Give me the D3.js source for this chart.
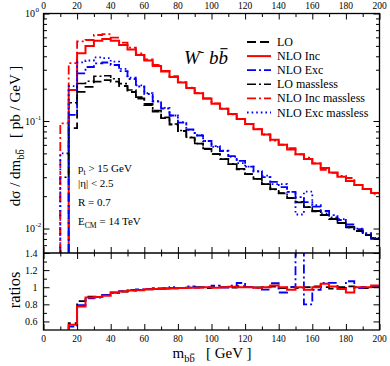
<!DOCTYPE html>
<html>
<head>
<meta charset="utf-8">
<script src="https://cdn.jsdelivr.net/npm/d3@7"></script>
<style>
body { margin: 0; background: #fff; }
text { font-family: "Liberation Serif", "DejaVu Serif", serif; fill: #000; white-space: pre; }
</style>
</head>
<body>
<script>
// bin edges of m_bb (GeV), 5 GeV bins
const edges = [10,15,20,25,30,35,40,45,50,55,60,65,70,75,80,85,90,95,100,105,110,115,120,125,130,135,140,145,150,155,160,165,170,175,180,185,190,195,200]

// dsigma/dm per bin (pb/GeV), null = nothing in that bin
const lo = [null,0.086,0.187,0.208,0.232,0.240,0.232,0.2116,0.1862,0.1619,0.1409,0.1226,0.1066,0.0928,0.0807,0.0702,0.0617,0.0549,0.0493,0.0443,0.0398,0.0358,0.0321,0.0289,0.0259,0.0233,0.0212,0.0192,0.0175,0.0158,0.01455,0.01336,0.01226,0.01125,0.01033,0.00948,0.0087,0.00799]
const nloInc = [null,0.194,0.426,0.499,0.558,0.579,0.558,0.509,0.463,0.411,0.365,0.325,0.289,0.257,0.228,0.203,0.181,0.162,0.145,0.130,0.116,0.1045,0.0938,0.0838,0.0749,0.0671,0.0603,0.0543,0.0490,0.0443,0.0403,0.0366,0.0332,0.0303,0.0277,0.0254,0.0233,0.0214]
const nloExc = [null,0.114,0.277,0.318,0.343,0.350,0.332,0.2917,0.2458,0.2094,0.1783,0.1518,0.1307,0.1125,0.0968,0.0834,0.0733,0.0652,0.0585,0.0526,0.0472,0.0425,0.0377,0.0339,0.0301,0.0271,0.0243,0.0219,0.0196,0.0176,0.0160,0.01455,0.01335,0.0120,0.0109,0.00989,0.00899,0.00816]
const loMassless = [0.03,0.148,0.223,0.234,0.261,0.264,0.247,0.2227,0.194,0.1669,0.1445,0.1251,0.1082,0.0937,0.0815,0.0706,0.0617,0.0555,0.0493,0.0443,0.0400,0.0354,0.0321,0.0290,0.0259,0.0231,0.0214,0.0192,0.0177,0.0158,0.0144,0.01336,0.01245,0.01125,0.01023,0.00948,0.00879,0.00799]
const nloIncMassless = [0.095,0.346,0.550,0.567,0.631,0.643,0.597,0.536,0.482,0.426,0.374,0.332,0.293,0.261,0.230,0.204,0.182,0.162,0.1457,0.130,0.1154,0.1045,0.0938,0.0842,0.0749,0.0658,0.0603,0.0560,0.0490,0.0457,0.0403,0.0352,0.0329,0.0309,0.0295,0.0254,0.0233,0.0210]
const nloExcMassless = [0.05,0.211,0.351,0.3655,0.390,0.385,0.357,0.3054,0.2534,0.2148,0.1819,0.1533,0.1327,0.1125,0.0978,0.0826,0.0737,0.0652,0.0574,0.0529,0.0463,0.0405,0.0377,0.0342,0.0310,0.0259,0.0259,0.0219,0.0135,0.0220,0.0165,0.01386,0.01271,0.01224,0.01019,0.00999,0.00899,0.00816]

const xTicks = [0,20,40,60,80,100,120,140,160,180,200]
const xMinor = [10,30,50,70,90,110,130,150,170,190]
const yMajor = [1,0.1,0.01]
const yMinor = [0.007,0.008,0.009,0.02,0.03,0.04,0.05,0.06,0.07,0.08,0.09,0.2,0.3,0.4,0.5,0.6,0.7,0.8,0.9]
const rTicks = [0.6,0.8,1,1.2,1.4]
const rMinor = [0.7,0.9,1.1,1.3]

let w = 390, h = 366
let L = 43.5, R = 379.5, T = 13.5, M = 253, B = 330

let svg = d3.select('body').append('svg').attr('width', w).attr('height', h)
svg.append('rect').attr('width', w).attr('height', h).attr('fill', '#fff')

let x = d3.scaleLinear().domain([0, 200]).range([L, R])
let y = d3.scaleLog().domain([0.00592, 1]).range([M, T])
let yr = d3.scaleLinear().domain([0.5, 1.4]).range([B, M])

let defs = svg.append('defs')
defs.append('clipPath').attr('id', 'clipTop').append('rect').attr('x', L).attr('y', T).attr('width', R - L).attr('height', M - T)
defs.append('clipPath').attr('id', 'clipRat').append('rect').attr('x', L).attr('y', M).attr('width', R - L).attr('height', B - M)

const styles = {
  lo: {color: '#000', dash: '9,4', width: 1.8},
  inc: {color: '#ff0000', dash: null, width: 2},
  exc: {color: '#0000ff', dash: '9,3,2,3', width: 1.8},
  loM: {color: '#000', dash: '9,3,2,3', width: 1.6},
  incM: {color: '#ff0000', dash: '9,3,2,3', width: 1.8},
  excM: {color: '#0000ff', dash: '1.6,3', width: 1.8}
}

function stepPts(vals, floor) {
  let pts = []
  let started = false
  vals.forEach((v, i) => {
    if (v == null) return
    if (!started) { pts.push([edges[i], floor]); started = true }
    pts.push([edges[i], v])
    pts.push([edges[i + 1], v])
  })
  return pts
}

function drawHist(g, vals, ys, floor, st) {
  let line = d3.line().x(d => x(d[0])).y(d => ys(d[1]))
  g.append('path')
    .attr('d', line(stepPts(vals, floor)))
    .attr('fill', 'none')
    .attr('stroke', st.color)
    .attr('stroke-width', st.width)
    .attr('stroke-dasharray', st.dash)
}

// top panel histograms
let gTop = svg.append('g').attr('clip-path', 'url(#clipTop)')
drawHist(gTop, lo, y, 0.00592, styles.lo)
drawHist(gTop, nloInc, y, 0.00592, styles.inc)
drawHist(gTop, nloExc, y, 0.00592, styles.exc)
drawHist(gTop, loMassless, y, 0.00592, styles.loM)
drawHist(gTop, nloIncMassless, y, 0.00592, styles.incM)
drawHist(gTop, nloExcMassless, y, 0.00592, styles.excM)

// ratio panel: massive / massless
let ratio = (a, b) => a.map((v, i) => v == null ? null : v / b[i])
let gRat = svg.append('g').attr('clip-path', 'url(#clipRat)')
drawHist(gRat, ratio(lo, loMassless), yr, 0.5, styles.lo)
drawHist(gRat, ratio(nloExc, nloExcMassless), yr, 0.5, styles.exc)
drawHist(gRat, ratio(nloInc, nloIncMassless), yr, 0.5, styles.inc)

// axes
function ax(axis, tx, ty, vals, size) {
  let g = svg.append('g').attr('transform', 'translate(' + tx + ',' + ty + ')')
    .call(axis.tickValues(vals).tickSize(size).tickSizeOuter(0).tickFormat(''))
  g.select('.domain').remove()
  g.selectAll('line').attr('stroke', '#000').attr('stroke-width', 1)
  return g
}
const big = -6, small = -3.5
ax(d3.axisLeft(y), L, 0, yMajor, big)
ax(d3.axisLeft(y), L, 0, yMinor, small)
ax(d3.axisRight(y), R, 0, yMajor, big)
ax(d3.axisRight(y), R, 0, yMinor, small)
ax(d3.axisTop(x), 0, T, xTicks, big)
ax(d3.axisTop(x), 0, T, xMinor, small)
ax(d3.axisBottom(x), 0, M, xTicks, big)
ax(d3.axisBottom(x), 0, M, xMinor, small)
ax(d3.axisTop(x), 0, M, xTicks, big)
ax(d3.axisTop(x), 0, M, xMinor, small)
ax(d3.axisBottom(x), 0, B, xTicks, big)
ax(d3.axisBottom(x), 0, B, xMinor, small)
ax(d3.axisLeft(yr), L, 0, rTicks, big)
ax(d3.axisLeft(yr), L, 0, rMinor, small)
ax(d3.axisRight(yr), R, 0, rTicks, big)
ax(d3.axisRight(yr), R, 0, rMinor, small)

svg.append('rect').attr('x', L).attr('y', T).attr('width', R - L).attr('height', B - T)
  .attr('fill', 'none').attr('stroke', '#000').attr('stroke-width', 1.3)
svg.append('line').attr('x1', L).attr('x2', R).attr('y1', M).attr('y2', M)
  .attr('stroke', '#000').attr('stroke-width', 1.3)

// tick labels
svg.selectAll('text.xt').data(xTicks).enter().append('text').attr('class', 'xt')
  .attr('x', d => x(d)).attr('y', T - 5).attr('text-anchor', 'middle').attr('font-size', 9.5).text(d => d)
svg.selectAll('text.xb').data(xTicks).enter().append('text').attr('class', 'xb')
  .attr('x', d => x(d)).attr('y', B + 11.5).attr('text-anchor', 'middle').attr('font-size', 9.5).text(d => d)
svg.selectAll('text.rt').data(rTicks).enter().append('text').attr('class', 'rt')
  .attr('x', L - 6).attr('y', d => yr(d) + 3.5).attr('text-anchor', 'end').attr('font-size', 10).text(d => d)
yMajor.forEach(v => {
  svg.append('text').attr('x', L - 8.5).attr('y', y(v) + 3.5).attr('text-anchor', 'end').attr('font-size', 10).text('10')
  svg.append('text').attr('x', L - 8).attr('y', y(v) - 1.5).attr('font-size', 7).text(Math.round(Math.log10(v)))
})

// rich text helper: sub/sup/bar parts
function rich(g, tx, ty, parts, size, anchor) {
  let t = g.append('text').attr('x', tx).attr('y', ty).attr('font-size', size).attr('text-anchor', anchor || 'start')
  let shift = 0, idx = 0, bars = []
  parts.forEach(p => {
    let s = p.sub ? size * 0.28 : p.sup ? -size * 0.42 : 0
    let ts = t.append('tspan').attr('dy', s - shift).text(p.t)
    if (p.sub || p.sup) ts.attr('font-size', size * 0.7)
    if (p.it) ts.attr('font-style', 'italic')
    if (p.bar) bars.push(idx + p.t.length - 1)
    idx += p.t.length
    shift = s
  })
  bars.forEach(i => {
    let e = t.node().getExtentOfChar(i)
    g.append('line').attr('x1', e.x + e.width * 0.2).attr('x2', e.x + e.width * 0.95)
      .attr('y1', e.y + e.height * 0.08).attr('y2', e.y + e.height * 0.08)
      .attr('stroke', '#000').attr('stroke-width', size * 0.06)
  })
  return t
}

const sp = '\u00a0'

// axis titles
let gy = svg.append('g').attr('transform', 'translate(20,136) rotate(-90)')
rich(gy, 0, 0, [{t: 'd\u03c3 / dm'}, {t: 'b', sub: true}, {t: 'b', sub: true, bar: true}, {t: sp + sp + sp + '[ pb / GeV ]'}], 15, 'middle')
let gr = svg.append('g').attr('transform', 'translate(20,290) rotate(-90)')
gr.append('text').attr('text-anchor', 'middle').attr('font-size', 16.5).text('ratios')
rich(svg, 212, 358, [{t: 'm'}, {t: 'b', sub: true}, {t: 'b', sub: true, bar: true}, {t: sp + sp + sp + '[ GeV ]'}], 15, 'middle')

// process label
rich(svg, 184, 64, [{t: 'W', it: true}, {t: '-', sup: true}, {t: sp + 'b', it: true}, {t: 'b', it: true, bar: true}], 19)

// cuts
rich(svg, 78, 172, [{t: 'p'}, {t: 't', sub: true}, {t: ' > 15 GeV'}], 11)
svg.append('text').attr('x', 78).attr('y', 187).attr('font-size', 11).text('|\u03b7| < 2.5')
svg.append('text').attr('x', 78).attr('y', 206).attr('font-size', 11).text('R = 0.7')
rich(svg, 78, 225, [{t: 'E'}, {t: 'CM', sub: true}, {t: ' = 14 TeV'}], 11)

// legend
const legNames = ['LO', 'NLO Inc', 'NLO Exc', 'LO massless', 'NLO Inc massless', 'NLO Exc massless']
const legStyles = [styles.lo, styles.inc, styles.exc, styles.loM, styles.incM, styles.excM]
let leg = svg.selectAll('g.leg').data(legNames).enter().append('g').attr('class', 'leg')
  .attr('transform', (d, i) => 'translate(0,' + (42 + i * 14.1) + ')')
leg.append('line').attr('x1', 247).attr('x2', 271)
  .attr('stroke', (d, i) => legStyles[i].color)
  .attr('stroke-width', (d, i) => legStyles[i].width)
  .attr('stroke-dasharray', (d, i) => legStyles[i].dash)
leg.append('text').attr('x', 277).attr('y', 4).attr('font-size', 12).text(d => d)
</script>
</body>
</html>
